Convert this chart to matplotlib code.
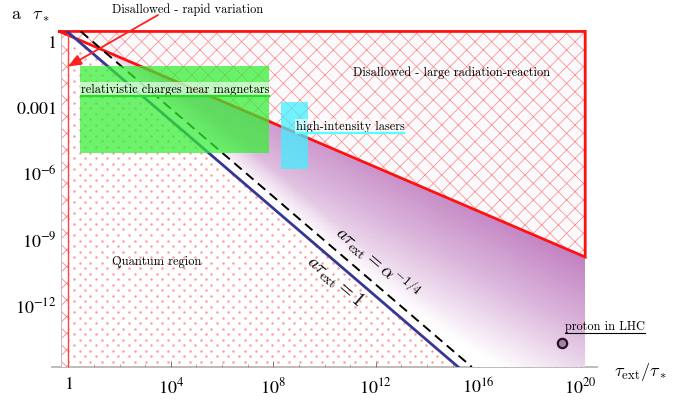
import numpy as np
import matplotlib
matplotlib.use("Agg")
import matplotlib.pyplot as plt
from matplotlib.patches import Polygon, Rectangle
from matplotlib.lines import Line2D
from matplotlib.transforms import IdentityTransform
from matplotlib.colors import LinearSegmentedColormap
from matplotlib.ticker import FixedLocator, NullFormatter

# ticks
x_ticks = [1, 1e4, 1e8, 1e12, 1e16, 1e20]
x_tick_labels = [r'$1$', r'$10^{4}$', r'$10^{8}$', r'$10^{12}$', r'$10^{16}$', r'$10^{20}$']
y_ticks = [1, 1e-3, 1e-6, 1e-9, 1e-12]
y_tick_labels = [r'$1$', r'$0.001$', r'$10^{-6}$', r'$10^{-9}$', r'$10^{-12}$']

# plot range
x_range = (10**-0.64, 10**20.64)
y_range = (10**-14.87, 10**0.42)
y_axis_at = 10**-0.25

# region boundaries
alpha_fs = 1 / 137.036
tau_min = 1.0            # rapid variation limit
tau_max = 10**20.18      # right end of the shaded regions
a_top = 10**0.40         # top of radiation-reaction region
rr_coef = 10**0.225      # a = rr_coef * tau**-1/2  (radiation reaction)
q_coef = 10**0.35        # a * tau = q_coef  (quantum line)
d_coef = q_coef * alpha_fs**-0.25

# physical systems: (x0, x1, y0, y1)
magnetars = (10**0.45, 10**7.83, 10**-5.12, 10**-1.15)
lasers = (10**8.30, 10**9.36, 10**-5.85, 10**-2.80)
proton_lhc = (10**19.28, 10**-13.78)

plt.rcParams['font.family'] = 'serif'
plt.rcParams['font.serif'] = ['cmr10', 'DejaVu Serif']
plt.rcParams['mathtext.fontset'] = 'cm'
plt.rcParams['hatch.linewidth'] = 0.55
plt.rcParams['axes.formatter.use_mathtext'] = True

fig = plt.figure(figsize=(6.83, 4.02), dpi=100)
ax = fig.add_axes([52 / 683, 1 - 368 / 402, 545 / 683, 336 / 402])
ax.set_xscale('log')
ax.set_yscale('log')
ax.set_xlim(*x_range)
ax.set_ylim(*y_range)

y_bot = y_range[0]

# quantum region: dotted texture on a pixel lattice, clipped to the region
quantum = Polygon([(tau_min, y_bot), (tau_min, q_coef / tau_min), (q_coef / y_bot, y_bot)],
                  closed=True, facecolor='none', lw=0, zorder=1)
ax.add_patch(quantum)
bb = ax.get_window_extent()
rows = np.arange(bb.y0, bb.y1 + 6, 5.5)
pts = []
for i, ry_ in enumerate(rows):
    cols = np.arange(bb.x0 + (5.5 if i % 2 else 0), bb.x1 + 11, 11)
    pts.extend([(c, ry_) for c in cols])
pts = ax.transData.inverted().transform(np.array(pts))
dots = ax.scatter(pts[:, 0], pts[:, 1], s=3.2, color='#ff9c9c', lw=0, zorder=1)
dots.set_clip_path(quantum)

# purple shading between dashed line and radiation reaction line
tau_i = (d_coef / rr_coef)**2
a_i = d_coef / tau_i
purple_poly = Polygon([(tau_i, a_i), (tau_max, rr_coef * tau_max**-0.5), (tau_max, y_bot),
                       (d_coef / y_bot, y_bot)], closed=True, facecolor='none', lw=0)
ax.add_patch(purple_poly)
gx = np.logspace(-0.64, 20.64, 300)
gy = np.logspace(-14.87, 0.42, 250)
LX, LY = np.meshgrid(np.log10(gx), np.log10(gy))
dist = LX + LY - np.log10(d_coef)
shade = np.clip(0.53 + 0.0837 * LX + 0.1305 * LY, 0, 1) * np.clip(0.3 + dist / 1.8, 0, 1)
cmap = LinearSegmentedColormap.from_list('pur', ['#ffffff', '#dab4da', '#bd78bd'])
mesh = ax.pcolormesh(gx, gy, shade, cmap=cmap, vmin=0, vmax=1, shading='auto', zorder=1.2,
                     rasterized=True)
mesh.set_clip_path(purple_poly)

# disallowed: large radiation reaction
tau0 = (rr_coef / a_top)**2
rr_pts = [(tau0, a_top), (tau_max, a_top), (tau_max, rr_coef * tau_max**-0.5)]
ax.add_patch(Polygon(rr_pts, closed=True, facecolor='#fafafc', edgecolor='#ff8c8c', lw=0,
                     hatch='xx', zorder=2))
rx = [p[0] for p in rr_pts] + [rr_pts[0][0]]
ry = [p[1] for p in rr_pts] + [rr_pts[0][1]]
ax.plot(rx, ry, color='#ff1111', lw=2, zorder=2.5, solid_joinstyle='miter', clip_on=False)

# disallowed: rapid variation
ax.add_patch(Rectangle((y_axis_at, y_bot), tau_min - y_axis_at, a_top - y_bot, facecolor='white',
                       edgecolor='#ff7a7a', lw=0, hatch='xx', zorder=2))
ax.plot([tau_min, tau_min], [y_bot, a_top], color='#ff4444', lw=1, zorder=2.5)

# lines
ax.plot([q_coef / a_top, q_coef / y_bot], [a_top, y_bot], color='#363696', lw=2, zorder=3)
ax.plot([d_coef / a_top, d_coef / y_bot], [a_top, y_bot], color='black', lw=1.4,
        dashes=(5, 3), zorder=3)

# physical systems
x0, x1, y0, y1 = magnetars
ax.add_patch(Rectangle((x0, y0), x1 - x0, y1 - y0, facecolor='#33ee33', alpha=0.72, lw=0, zorder=4))
x0, x1, y0, y1 = lasers
ax.add_patch(Rectangle((x0, y0), x1 - x0, y1 - y0, facecolor='#44eeff', alpha=0.75, lw=0, zorder=4))
ax.scatter([proton_lhc[0]], [proton_lhc[1]], s=45, facecolor='#a284a2', edgecolor='#2a102a',
           linewidth=1.6, zorder=5)

# axes styling
for side in ['top', 'right']:
    ax.spines[side].set_visible(False)
ax.spines['left'].set_position(('data', y_axis_at))
ax.spines['left'].set_bounds(y_bot, y_range[1])
for side in ['left', 'bottom']:
    ax.spines[side].set_color('#bcbcbc')
    ax.spines[side].set_linewidth(1.4)
    ax.spines[side].set_zorder(0.5)
ax.xaxis.set_major_locator(FixedLocator(x_ticks))
ax.yaxis.set_major_locator(FixedLocator(y_ticks))
ax.set_xticklabels(x_tick_labels)
ax.set_yticklabels(y_tick_labels)
ax.xaxis.set_minor_locator(FixedLocator([10.0**k for k in range(0, 21)]))
ax.yaxis.set_minor_locator(FixedLocator([10.0**-k for k in range(0, 15)]))
ax.xaxis.set_minor_formatter(NullFormatter())
ax.yaxis.set_minor_formatter(NullFormatter())
ax.tick_params(which='major', direction='in', length=4, width=0.7, color='#777777',
               labelsize=13, pad=6)
ax.tick_params(which='minor', direction='in', length=2, width=0.5, color='#888888')
ax.tick_params(axis='y', which='major', pad=4)
for lab in ax.get_xticklabels() + ax.get_yticklabels():
    lab.set_math_fontfamily('stix')
ax.set_axisbelow(True)

# labels
fs = 8.9
ax.text(10**3.46, 10**-10.04, 'Quantum region', fontsize=fs, ha='center', va='center', zorder=6)
ax.text(10**14.98, 10**-1.43, 'Disallowed - large radiation-reaction', fontsize=fs,
        ha='center', va='center', zorder=6)
mag_lab = ax.text(10**4.16, 10**-2.2, 'relativistic charges near magnetars', fontsize=fs,
                  ha='center', va='center', zorder=6,
                  bbox=dict(boxstyle='square,pad=0.05', facecolor='white', alpha=0.6, lw=0))
las_lab = ax.text(10**11.0, 10**-3.89, 'high-intensity lasers', fontsize=fs, ha='center',
                  va='center', zorder=6,
                  bbox=dict(boxstyle='square,pad=0.05', facecolor='white', alpha=0.6, lw=0))
pro_lab = ax.text(10**20.95, 10**-13.0, 'proton in LHC', fontsize=fs, ha='center', va='center',
                  zorder=6)

# rotated line labels
p1 = ax.transData.transform((1e4, q_coef / 1e4))
p2 = ax.transData.transform((1e12, q_coef / 1e12))
ang = np.degrees(np.arctan2(p2[1] - p1[1], p2[0] - p1[0]))
ax.text(10**10.4, 10**-10.9, r'$a\tau_{\rm ext}=1$', fontsize=13.5, rotation=ang,
        rotation_mode='anchor', ha='center', va='center', zorder=6)
ax.text(10**12.05, 10**-10.1, r'$a\tau_{\rm ext}=\alpha^{-1/4}$', fontsize=13.5, rotation=ang,
        rotation_mode='anchor', ha='center', va='center', zorder=6)

# rapid variation annotation
fig.text(188 / 683, 1 - 10 / 402, 'Disallowed - rapid variation', fontsize=fs,
         ha='center', va='center')
ax.annotate('', xy=(10**-0.02, 10**-1.2), xytext=(158, 402 - 16), textcoords='figure pixels',
            arrowprops=dict(arrowstyle='-|>,head_length=0.8,head_width=0.32', color='#ff2020',
                            lw=1.3, shrinkA=0, shrinkB=0),
            annotation_clip=False, zorder=7)

# axis labels
fig.text(30 / 683, 1 - 15 / 402, r'a  $\tau_*$', fontsize=13, ha='center', va='center')
fig.text(640 / 683, 1 - 372 / 402, r'$\tau_{\rm ext}/\tau_*$', fontsize=13, ha='center',
         va='center')

# underlines for the system labels
fig.canvas.draw()
for lab, col, lw in [(mag_lab, '#22dd22', 1.6), (las_lab, '#55ffff', 1.6), (pro_lab, 'black', 0.8)]:
    bb = lab.get_window_extent()
    fig.add_artist(Line2D([bb.x0, bb.x1], [bb.y0 - 1, bb.y0 - 1], color=col, lw=lw,
                          transform=IdentityTransform(), zorder=6))

fig.savefig('out.png', dpi=100)
